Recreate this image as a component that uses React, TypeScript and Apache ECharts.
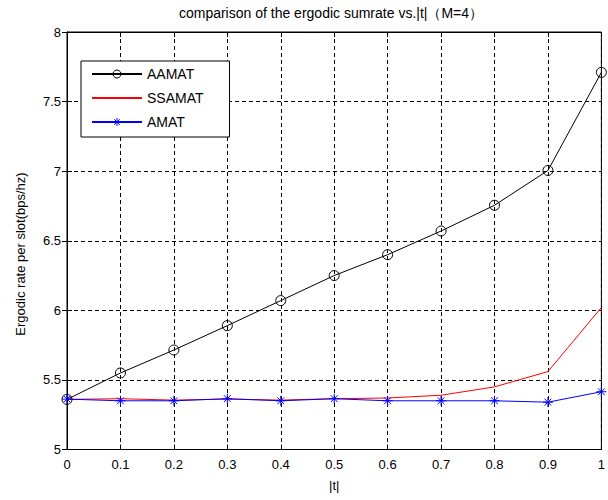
import React, { useEffect, useRef } from "react";
import * as echarts from "echarts";

const tValues = [0, 0.1, 0.2, 0.3, 0.4, 0.5, 0.6, 0.7, 0.8, 0.9, 1];
const aamat = [5.36, 5.55, 5.715, 5.89, 6.07, 6.25, 6.40, 6.57, 6.755, 7.005, 7.71];
const ssamat = [5.36, 5.365, 5.355, 5.362, 5.355, 5.365, 5.37, 5.39, 5.45, 5.56, 6.02];
const amat = [5.362, 5.35, 5.35, 5.365, 5.35, 5.365, 5.35, 5.35, 5.35, 5.34, 5.415];
const titleText = "comparison of the ergodic sumrate vs.|t|（M=4）";
const yName = "Ergodic rate per slot(bps/hz)";
const xName = "|t|";

const FONT = "Liberation Sans, Arial, sans-serif";
const STAR = "path://M5 0L5 10M0 5L10 5M1.6 1.6L8.4 8.4M8.4 1.6L1.6 8.4";

export default function App() {
  const ref = useRef<HTMLDivElement>(null);
  useEffect(() => {
    if (!ref.current) return;
    const chart = echarts.init(ref.current, undefined, { renderer: "svg" });
    const pair = (ys: number[]) => tValues.map((t, i) => [t, ys[i]]);
    const gridStyle = { show: true, lineStyle: { color: "#000", type: [4, 3], width: 1 } };
    chart.setOption({
      animation: false,
      backgroundColor: "#fff",
      textStyle: { fontFamily: FONT },
      grid: { left: 67, right: 1.5, top: 32, bottom: 50.5, show: true, borderColor: "#000", borderWidth: 1, backgroundColor: "#fff" },
      graphic: [
        { type: "text", x: 331, y: 13, style: { text: titleText, align: "center", verticalAlign: "middle", font: `14px ${FONT}`, fill: "#000" } },
        { type: "text", x: 20, y: 254, rotation: Math.PI / 2, style: { text: yName, align: "center", verticalAlign: "middle", font: `13px ${FONT}`, fill: "#000" } },
      ],
      legend: {
        left: 81,
        top: 61,
        orient: "vertical",
        backgroundColor: "#fff",
        borderColor: "#000",
        borderWidth: 1,
        padding: [6, 26, 8, 10],
        itemGap: 10,
        itemWidth: 50,
        itemHeight: 10,
        textStyle: { fontSize: 14, color: "#000", fontFamily: FONT },
        data: [
          { name: "AAMAT", itemStyle: { color: "transparent", borderColor: "#000", borderWidth: 1 } },
          { name: "SSAMAT", itemStyle: { opacity: 0 } },
          { name: "AMAT", itemStyle: { color: "#0000ff", borderColor: "#0000ff", borderWidth: 1 } },
        ],
      },
      xAxis: [
        {
          type: "value",
          min: 0,
          max: 1,
          interval: 0.1,
          name: xName,
          nameLocation: "middle",
          nameGap: 29,
          nameTextStyle: { fontSize: 13, color: "#000", fontFamily: FONT },
          axisLine: { show: true, lineStyle: { color: "#000" } },
          axisTick: { show: true, inside: true, length: 5, lineStyle: { color: "#000" } },
          axisLabel: { fontSize: 13, color: "#000", margin: 8, fontFamily: FONT },
          splitLine: gridStyle,
        },
        {
          type: "value",
          position: "top",
          min: 0,
          max: 1,
          interval: 0.1,
          axisLine: { show: true, lineStyle: { color: "#000" } },
          axisTick: { show: true, inside: true, length: 5, lineStyle: { color: "#000" } },
          axisLabel: { show: false },
          splitLine: { show: false },
        },
      ],
      yAxis: [
        {
          type: "value",
          min: 5,
          max: 8,
          interval: 0.5,
          axisLine: { show: true, lineStyle: { color: "#000" } },
          axisTick: { show: true, inside: true, length: 5, lineStyle: { color: "#000" } },
          axisLabel: { fontSize: 13, color: "#000", margin: 6, fontFamily: FONT },
          splitLine: gridStyle,
        },
        {
          type: "value",
          position: "right",
          min: 5,
          max: 8,
          interval: 0.5,
          axisLine: { show: true, lineStyle: { color: "#000" } },
          axisTick: { show: true, inside: true, length: 5, lineStyle: { color: "#000" } },
          axisLabel: { show: false },
          splitLine: { show: false },
        },
      ],
      series: [
        {
          name: "AAMAT",
          type: "line",
          data: pair(aamat),
          symbol: "circle",
          symbolSize: 10,
          showAllSymbol: true,
          lineStyle: { color: "#000", width: 1 },
          itemStyle: { color: "transparent", borderColor: "#000", borderWidth: 1 },
        },
        {
          name: "SSAMAT",
          type: "line",
          data: pair(ssamat),
          symbol: "none",
          lineStyle: { color: "#ff0000", width: 1 },
          itemStyle: { color: "#ff0000" },
        },
        {
          name: "AMAT",
          type: "line",
          data: pair(amat),
          symbol: STAR,
          symbolSize: 10,
          showAllSymbol: true,
          lineStyle: { color: "#0000ff", width: 1 },
          itemStyle: { color: "#0000ff", borderColor: "#0000ff", borderWidth: 1 },
        },
      ],
    });
    return () => chart.dispose();
  }, []);
  return <div ref={ref} style={{ position: "fixed", left: 0, top: 0, width: 608, height: 500 }} />;
}
